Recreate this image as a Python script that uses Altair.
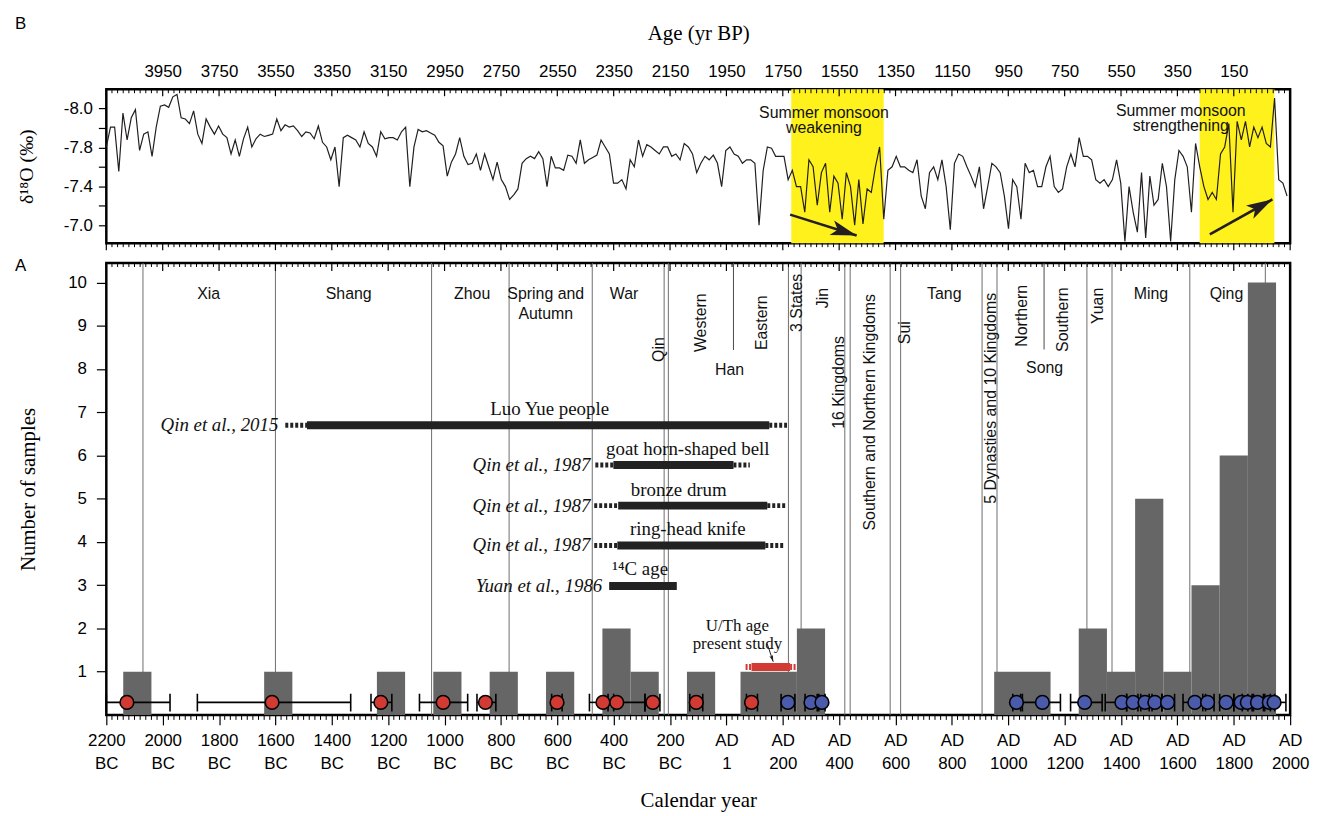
import math
import altair as alt
import pandas as pd

SANS = "Liberation Sans"
SERIF = "Liberation Serif"

# ================= Panel B : stalagmite d18O record =================
d18o_first_year = -2200
d18o_year_step = 14.75
d18o_values = [
    -7.67, -7.84, -7.84, -7.46, -7.96, -7.73, -7.92, -7.99, -7.64, -7.78,
    -7.80, -7.59, -7.84, -8.02, -8.03, -8.01, -8.10, -8.12, -7.92, -7.91,
    -7.87, -7.98, -7.78, -7.70, -7.91, -7.84, -7.78, -7.85, -7.78, -7.75,
    -7.61, -7.73, -7.59, -7.74, -7.84, -7.67, -7.74, -7.78, -7.76, -7.77,
    -7.78, -7.91, -7.81, -7.86, -7.84, -7.85, -7.81, -7.76, -7.80, -7.79,
    -7.74, -7.85, -7.71, -7.67, -7.56, -7.67, -7.33, -7.75, -7.77, -7.75,
    -7.73, -7.67, -7.80, -7.70, -7.67, -7.59, -7.80, -7.74, -7.75, -7.75,
    -7.73, -7.80, -7.84, -7.33, -7.67, -7.82, -7.80, -7.81, -7.79, -7.77,
    -7.71, -7.68, -7.42, -7.54, -7.61, -7.75, -7.59, -7.52, -7.53, -7.61,
    -7.47, -7.61, -7.50, -7.39, -7.54, -7.39, -7.33, -7.22, -7.26, -7.31,
    -7.53, -7.57, -7.59, -7.57, -7.63, -7.57, -7.33, -7.59, -7.49, -7.49,
    -7.47, -7.60, -7.59, -7.53, -7.73, -7.53, -7.56, -7.58, -7.60, -7.73,
    -7.67, -7.61, -7.36, -7.36, -7.39, -7.31, -7.56, -7.50, -7.73, -7.59,
    -7.69, -7.67, -7.64, -7.61,
    -7.67, -7.67, -7.59, -7.61, -7.56, -7.70, -7.67, -7.61, -7.45, -7.53,
    -7.59, -7.56, -7.60, -7.53, -7.33, -7.64, -7.67, -7.61, -7.59, -7.53,
    -7.56, -7.56, -7.53, -7.00, -7.47, -7.67, -7.66, -7.59, -7.59, -7.59,
    -7.39, -7.47, -7.33, -7.33, -7.11, -7.56, -7.50, -7.17, -7.45, -7.53,
    -7.11, -7.42, -7.36, -7.05, -7.45, -7.33, -7.00, -7.39, -7.01, -7.31,
    -7.28, -7.50, -7.67, -7.05, -7.47, -7.50, -7.59, -7.50, -7.50, -7.47,
    -7.45, -7.56, -7.25, -7.14, -7.45, -7.50, -7.39, -7.56, -7.33, -6.96,
    -7.53, -7.61, -7.59, -7.50, -7.42, -7.33, -7.50, -7.14, -7.33, -7.53,
    -7.50, -7.45, -7.25, -6.97, -7.39, -7.33, -7.05, -7.53, -7.45, -7.47,
    -7.33, -7.33, -7.50, -7.59, -7.33, -7.28, -7.31, -7.50, -7.61, -7.50,
    -7.75, -7.59, -7.59, -7.56, -7.39, -7.36, -7.39, -7.33, -7.39, -7.56,
    -7.36, -6.86, -7.33, -7.11, -6.94, -7.45, -6.89, -7.42, -7.17, -7.22,
    -7.53, -7.33, -6.86, -7.39, -7.64, -7.59, -7.50, -7.11, -7.70, -7.50,
    -7.33, -7.22, -7.28, -7.22, -7.61, -7.67, -7.87, -7.11, -7.89, -7.73,
    -7.89, -7.67, -7.84, -7.75, -7.84, -7.70, -7.67, -8.09, -7.39, -7.36,
    -7.25,
]

monsoon_start = [230, 1679]
monsoon_end = [558, 1944]
monsoon_label_year = [346, 1612]
monsoon_label = [["Summer monsoon", "weakening"], ["Summer monsoon", "strengthening"]]
monsoon_label_y = [-7.96, -7.98]

arrow_year_from = [226, 1715]
arrow_year_to = [462, 1937]
arrow_val_from = [-7.09, -6.92]
arrow_val_to = [-6.91, -7.22]

age_tick_years = list(range(-2000, 1801, 200))
d18o_tick_values = [-8.0 + k / 6 for k in range(7)]

# ================= Panel A : dated samples =================
bin_start = [-2140, -1640, -1240, -1040, -840, -640, -440, -340, -140, 50, 250,
             950, 1250, 1350, 1450, 1550, 1650, 1750, 1850]
bin_end = [-2040, -1540, -1140, -940, -740, -540, -340, -240, -40, 250, 350,
           1150, 1350, 1450, 1550, 1650, 1750, 1850, 1950]
bin_count = [1, 1, 1, 1, 1, 1, 2, 1, 1, 1, 2, 1, 2, 1, 5, 1, 3, 6, 10]

dynasty_boundaries = [-2070, -1600, -1046, -771, -476, -221, -206, 220, 265,
                      420, 439, 581, 618, 907, 960, 1279, 1368, 1644, 1912]
sub_boundaries = [25, 1127]

label_h_text = ["Xia", "Shang", "Zhou", "Spring and", "Autumn", "War", "Han",
                "Tang", "Song", "Ming", "Qing"]
label_h_year = [-1837, -1340, -902, -641, -641, -363, 11, 773, 1129, 1506, 1774]
label_h_y = [9.74, 9.74, 9.74, 9.74, 9.28, 9.74, 7.97, 9.74, 8.03, 9.74, 9.74]

label_v_text = ["Qin", "Western", "Eastern", "3 States", "Jin", "16 Kingdoms",
                "Southern and Northern Kingdoms", "Sui",
                "5 Dynasties and 10 Kingdoms", "Northern", "Southern", "Yuan"]
label_v_year = [-239, -91, 127, 251, 343, 399, 508, 632, 939, 1048, 1196, 1319]
label_v_y = [8.45, 9.07, 9.07, 9.53, 9.64, 7.69, 7.0, 8.84, 7.32, 9.23, 9.14, 9.46]

ref_label = ["Luo Yue people", "goat horn-shaped bell", "bronze drum",
             "ring-head knife", "¹⁴C age"]
ref_cite = ["Qin et al., 2015", "Qin et al., 1987", "Qin et al., 1987",
            "Qin et al., 1987", "Yuan et al., 1986"]
ref_start = [-1488, -401, -384, -387, -416]
ref_end = [152, 25, 145, 138, -176]
ref_dot_lo = [-1565, -465, -469, -469, -416]
ref_dot_hi = [215, 83, 209, 205, -176]
ref_y = [6.70, 5.78, 4.84, 3.92, 2.98]
ref_label_year = [-627, -137, -169, -137, -306]
ref_label_y = [7.07, 6.15, 5.21, 4.29, 3.37]
ref_cite_year = [-1593, -486, -486, -486, -444]

uth_start, uth_end = 89, 226
uth_dash_lo, uth_dash_hi = 68, 247
uth_y = 1.11
uth_text = [["U/Th age", "present study"]]
uth_text_year = [39]
uth_text_y = [2.06]
uth_arrow_from = (145, 1.64)
uth_arrow_to = (166, 1.23)

red_age = [-2127, -1612, -1226, -1005, -855, -601, -438, -389, -261, -107, 89]
red_lo = [-2200, -1877, -1261, -1089, -885, -620, -486, -420, -289, -130, 71]
red_hi = [-1974, -1333, -1187, -918, -818, -583, -400, -289, -236, -84, 110]

blue_age = [218, 300, 339, 1029, 1121, 1271, 1403, 1443, 1485, 1520, 1565,
            1662, 1707, 1773, 1826, 1848, 1884, 1926, 1943]
blue_lo = [194, 279, 328, 1016, 1050, 1221, 1344, 1420, 1460, 1500, 1545,
           1620, 1690, 1750, 1800, 1830, 1865, 1910, 1930]
blue_hi = [243, 322, 350, 1044, 1185, 1333, 1420, 1470, 1510, 1545, 1590,
           1700, 1730, 1800, 1850, 1870, 1905, 1945, 1985]
dot_y = 0.29
cap_lo_y, cap_hi_y = 0.08, 0.49

tick_years = list(range(-2200, 2001, 20))
major_years = list(range(-2200, 2001, 200))
count_ticks = list(range(1, 11))

# ================= layout / style =================
W = 1192
H_TOP = 155
H_BOT = 455
X_DOMAIN = [-2200, 2000]
Y_TOP_DOMAIN = [-8.165, -6.845]
Y_BOT_DOMAIN = [0, 10.45]
LINE = "#231f20"
BAR = "#666666"
YELLOW = "#fff21c"
RED = "#d13b34"
BLUE = "#4a5bab"
ARROW_PATH = "M0,0L0.55,1.9L0,1.45L-0.55,1.9Z"

xs = alt.Scale(domain=X_DOMAIN, nice=False, zero=False)
yts = alt.Scale(domain=Y_TOP_DOMAIN, reverse=True, nice=False, zero=False)
ybs = alt.Scale(domain=Y_BOT_DOMAIN, nice=False, zero=False)

top_x_axis = alt.Axis(
    orient="top", values=age_tick_years, ticks=False, domain=False,
    labelExpr="toString(1950 - datum.value)", labelFont=SANS, labelFontSize=17,
    labelPadding=9, labelFlush=False, labelOverlap=False,
    title="Age (yr BP)", titleFont=SERIF, titleFontSize=21, titleFontWeight="normal",
    titleY=-56, titleBaseline="middle")
top_y_axis = alt.Axis(
    values=d18o_tick_values, tickSize=8, domain=False,
    labelExpr=("abs(datum.value + 8) < 0.01 ? '-8.0' : abs(datum.value + 7.6667) < 0.01 ? '-7.8' : "
               "abs(datum.value + 7.3333) < 0.01 ? '-7.4' : abs(datum.value + 7) < 0.01 ? '-7.0' : ''"),
    labelFont=SANS, labelFontSize=17, labelPadding=6, labelOverlap=False,
    title="δ¹⁸O (‰)", titleFont=SERIF, titleFontSize=20, titleFontWeight="normal",
    titleX=-80, titleY=H_TOP / 2, titleAngle=270, titleAlign="center", titleBaseline="middle")

bot_x_axis = alt.Axis(
    orient="bottom", values=major_years, tickSize=10, domain=False,
    labelExpr=("datum.value < 0 ? [toString(-datum.value), 'BC'] : "
               "(datum.value == 0 ? ['AD', '1'] : ['AD', toString(datum.value)])"),
    labelFont=SANS, labelFontSize=17, labelLineHeight=23, labelPadding=8,
    labelFlush=False, labelOverlap=False,
    title="Calendar year", titleFont=SERIF, titleFontSize=21, titleFontWeight="normal",
    titleY=86, titleBaseline="middle")
bot_y_axis = alt.Axis(
    values=count_ticks, tickSize=10, domain=False, labelFont=SANS, labelFontSize=17,
    labelPadding=10, labelOverlap=False,
    title="Number of  samples", titleFont=SERIF, titleFontSize=21, titleFontWeight="normal",
    titleX=-78, titleY=H_BOT / 2, titleAngle=270, titleAlign="center", titleBaseline="middle")


def XT(f):
    return alt.X(f, type="quantitative", scale=xs, axis=top_x_axis)


def YT(f):
    return alt.Y(f, type="quantitative", scale=yts, axis=top_y_axis)


def XB(f):
    return alt.X(f, type="quantitative", scale=xs, axis=bot_x_axis)


def YB(f):
    return alt.Y(f, type="quantitative", scale=ybs, axis=bot_y_axis)


# ---------- panel B layers ----------
d18o_df = pd.DataFrame({
    "year": [d18o_first_year + d18o_year_step * i for i in range(len(d18o_values))],
    "d18o": d18o_values,
})
bands_df = pd.DataFrame({"start": monsoon_start, "end": monsoon_end})
mlab_df = pd.DataFrame({"year": monsoon_label_year, "y": monsoon_label_y, "t": monsoon_label})

px_year = W / (X_DOMAIN[1] - X_DOMAIN[0])
px_val_top = H_TOP / (Y_TOP_DOMAIN[1] - Y_TOP_DOMAIN[0])
arrow_angle = []
for i in range(2):
    dx = (arrow_year_to[i] - arrow_year_from[i]) * px_year
    dy = (arrow_val_to[i] - arrow_val_from[i]) * px_val_top
    arrow_angle.append(math.degrees(math.atan2(dx, -dy)) % 360)
arrows_df = pd.DataFrame({
    "x0": arrow_year_from, "x1": arrow_year_to,
    "y0": arrow_val_from, "y1": arrow_val_to, "ang": arrow_angle,
})

ticks_df = pd.DataFrame({"year": tick_years})
ticks_df["major"] = ticks_df["year"] % 200 == 0
major_df = ticks_df[ticks_df["major"]]
minor_df = ticks_df[~ticks_df["major"]]

band_layer = alt.Chart(bands_df).mark_rect(color=YELLOW).encode(
    x=XT("start"), x2="end")
line_layer = alt.Chart(d18o_df).mark_line(color=LINE, strokeWidth=1.2, clip=True).encode(
    x=XT("year"), y=YT("d18o"))
mlab_layer = alt.Chart(mlab_df).mark_text(font=SANS, fontSize=16, color="#111",
                                          baseline="middle", lineHeight=15).encode(
    x=XT("year"), y=YT("y"), text="t")
shaft_layer = alt.Chart(arrows_df).mark_rule(color=LINE, strokeWidth=2.6).encode(
    x=XT("x0"), x2="x1", y=YT("y0"), y2="y1")
head_layer = alt.Chart(arrows_df).mark_point(
    shape=ARROW_PATH, size=760, filled=True, color=LINE, opacity=1).encode(
    x=XT("x1"), y=YT("y1"), angle=alt.Angle("ang:Q", scale=None))
tin_major = alt.Chart(major_df).mark_rule(color="black", strokeWidth=1.2).encode(
    x=XT("year"), y=alt.value(0), y2=alt.value(7))
tin_minor = alt.Chart(minor_df).mark_rule(color="black", strokeWidth=1).encode(
    x=XT("year"), y=alt.value(0), y2=alt.value(4))
tout_major = alt.Chart(major_df).mark_rule(color="black", strokeWidth=1.2).encode(
    x=XT("year"), y=alt.value(H_TOP), y2=alt.value(H_TOP + 7))
tout_minor = alt.Chart(minor_df).mark_rule(color="black", strokeWidth=1).encode(
    x=XT("year"), y=alt.value(H_TOP), y2=alt.value(H_TOP + 4))
b_label = alt.Chart(pd.DataFrame({"t": ["B"]})).mark_text(
    font=SANS, fontSize=17, align="left", baseline="middle", color="black").encode(
    text="t:N", x=alt.value(-92), y=alt.value(-66))

top = alt.layer(band_layer, line_layer, mlab_layer, shaft_layer, head_layer,
                tin_major, tin_minor, tout_major, tout_minor, b_label).properties(
    width=W, height=H_TOP)

# ---------- panel A layers ----------
bins_df = pd.DataFrame({"start": bin_start, "end": bin_end, "count": bin_count})
bins_df["zero"] = 0
dyn_df = pd.DataFrame({"year": dynasty_boundaries})
sub_df = pd.DataFrame({"year": sub_boundaries, "y0": [Y_BOT_DOMAIN[1]] * 2, "y1": [8.44, 8.45]})
lh_df = pd.DataFrame({"year": label_h_year, "y": label_h_y, "t": label_h_text})
lv_df = pd.DataFrame({"year": label_v_year, "y": label_v_y, "t": label_v_text})
ref_df = pd.DataFrame({
    "label": ref_label, "cite": ref_cite, "start": ref_start, "end": ref_end,
    "lo": ref_dot_lo, "hi": ref_dot_hi, "y": ref_y,
    "lx": ref_label_year, "ly": ref_label_y, "cx": ref_cite_year,
})
dots_ext = pd.DataFrame({
    "a": ref_dot_lo[:4] + ref_end[:4],
    "b": ref_start[:4] + ref_dot_hi[:4],
    "y": ref_y[:4] * 2,
})
uth_df = pd.DataFrame({"a": [uth_start], "b": [uth_end], "y": [uth_y]})
uth_dash_df = pd.DataFrame({"a": [uth_dash_lo, uth_end], "b": [uth_start, uth_dash_hi],
                            "y": [uth_y, uth_y]})
uth_txt_df = pd.DataFrame({"year": uth_text_year, "y": uth_text_y, "t": uth_text})
px_val_bot = H_BOT / (Y_BOT_DOMAIN[1] - Y_BOT_DOMAIN[0])
sdx = (uth_arrow_to[0] - uth_arrow_from[0]) * px_year
sdy = -(uth_arrow_to[1] - uth_arrow_from[1]) * px_val_bot
small_arrow_df = pd.DataFrame({
    "x0": [uth_arrow_from[0]], "x1": [uth_arrow_to[0]],
    "y0": [uth_arrow_from[1]], "y1": [uth_arrow_to[1]],
    "ang": [math.degrees(math.atan2(sdx, -sdy)) % 360],
})

red_df = pd.DataFrame({"age": red_age, "lo": red_lo, "hi": red_hi})
blue_df = pd.DataFrame({"age": blue_age, "lo": blue_lo, "hi": blue_hi})
all_err = pd.concat([red_df, blue_df], ignore_index=True)
all_err["y"] = dot_y
caps_df = pd.DataFrame({"year": list(all_err["lo"]) + list(all_err["hi"])})
caps_df["y0"] = cap_lo_y
caps_df["y1"] = cap_hi_y
red_df["y"] = dot_y
blue_df["y"] = dot_y

dyn_layer = alt.Chart(dyn_df).mark_rule(color="#6e6e6e", strokeWidth=1).encode(x=XB("year"))
sub_layer = alt.Chart(sub_df).mark_rule(color="#4a4a4a", strokeWidth=1).encode(
    x=XB("year"), y=YB("y0"), y2="y1")
bins_layer = alt.Chart(bins_df).mark_rect(color=BAR).encode(
    x=XB("start"), x2="end", y=YB("zero"), y2="count")
lh_layer = alt.Chart(lh_df).mark_text(font=SANS, fontSize=16, color="#111",
                                      baseline="middle").encode(
    x=XB("year"), y=YB("y"), text="t:N")
lv_layer = alt.Chart(lv_df).mark_text(font=SANS, fontSize=16, color="#111", angle=270,
                                      baseline="middle", align="center").encode(
    x=XB("year"), y=YB("y"), text="t:N")
ref_bar = alt.Chart(ref_df).mark_rule(color="#222222", strokeWidth=8).encode(
    x=XB("start"), x2="end", y=YB("y"))
ref_dots = alt.Chart(dots_ext).mark_rule(color="#222222", strokeWidth=5,
                                         strokeDash=[3, 2]).encode(
    x=XB("a"), x2="b", y=YB("y"))
ref_lab = alt.Chart(ref_df).mark_text(font=SERIF, fontSize=19, color="#111",
                                      baseline="middle").encode(
    x=XB("lx"), y=YB("ly"), text="label:N")
ref_cit = alt.Chart(ref_df).mark_text(font=SERIF, fontSize=19, fontStyle="italic",
                                      color="#111", baseline="middle", align="right",
                                      dx=1).encode(
    x=XB("cx"), y=YB("y"), text="cite:N")
uth_bar = alt.Chart(uth_df).mark_rule(color=RED, strokeWidth=8).encode(
    x=XB("a"), x2="b", y=YB("y"))
uth_dash = alt.Chart(uth_dash_df).mark_rule(color=RED, strokeWidth=6,
                                            strokeDash=[2, 1.5]).encode(
    x=XB("a"), x2="b", y=YB("y"))
uth_txt = alt.Chart(uth_txt_df).mark_text(font=SERIF, fontSize=17, color="#111",
                                          baseline="middle", lineHeight=18).encode(
    x=XB("year"), y=YB("y"), text="t")
sa_shaft = alt.Chart(small_arrow_df).mark_rule(color="#222", strokeWidth=1).encode(
    x=XB("x0"), x2="x1", y=YB("y0"), y2="y1")
sa_head = alt.Chart(small_arrow_df).mark_point(
    shape=ARROW_PATH, size=50, filled=True, color="#222", opacity=1).encode(
    x=XB("x1"), y=YB("y1"), angle=alt.Angle("ang:Q", scale=None))
err_layer = alt.Chart(all_err).mark_rule(color="black", strokeWidth=1.6).encode(
    x=XB("lo"), x2="hi", y=YB("y"))
cap_layer = alt.Chart(caps_df).mark_rule(color="black", strokeWidth=1.6).encode(
    x=XB("year"), y=YB("y0"), y2="y1")
red_layer = alt.Chart(red_df).mark_point(
    shape="circle", size=190, fill=RED, stroke="black", strokeWidth=1.6,
    opacity=1, fillOpacity=1).encode(x=XB("age"), y=YB("y"))
blue_layer = alt.Chart(blue_df).mark_point(
    shape="circle", size=190, fill=BLUE, stroke="black", strokeWidth=1.6,
    opacity=1, fillOpacity=1).encode(x=XB("age"), y=YB("y"))
bin_major = alt.Chart(major_df).mark_rule(color="black", strokeWidth=1.2).encode(
    x=XB("year"), y=alt.value(0), y2=alt.value(8))
bin_minor = alt.Chart(minor_df).mark_rule(color="black", strokeWidth=1).encode(
    x=XB("year"), y=alt.value(0), y2=alt.value(4))
bout_minor = alt.Chart(minor_df).mark_rule(color="black", strokeWidth=1).encode(
    x=XB("year"), y=alt.value(H_BOT), y2=alt.value(H_BOT + 5))
a_label = alt.Chart(pd.DataFrame({"t": ["A"]})).mark_text(
    font=SANS, fontSize=17, align="left", baseline="middle", color="black").encode(
    text="t:N", x=alt.value(-92), y=alt.value(3))

bottom = alt.layer(dyn_layer, sub_layer, bins_layer, lh_layer, lv_layer, ref_dots,
                   ref_bar, ref_lab, ref_cit, uth_dash, uth_bar, uth_txt, sa_shaft,
                   sa_head, err_layer, cap_layer, red_layer, blue_layer, bin_major,
                   bin_minor, bout_minor, a_label).properties(width=W, height=H_BOT)

chart = alt.vconcat(top, bottom, spacing=20, bounds="flush").properties(
    padding={"left": 5, "top": 2, "right": 0, "bottom": 5},
    background="white",
).configure_view(stroke="black", strokeWidth=2.5).configure_axis(
    tickColor="black", tickWidth=1.2, labelColor="black", titleColor="black",
    grid=False,
)

chart.save("out.html", embed_options={"renderer": "svg", "actions": False})
